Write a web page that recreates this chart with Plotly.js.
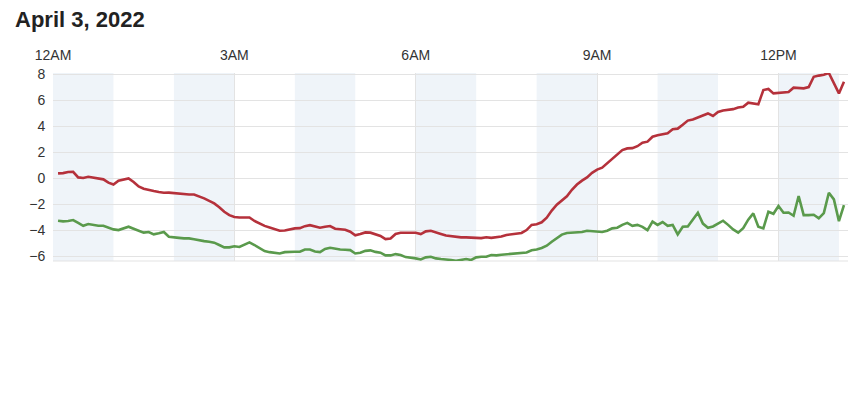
<!DOCTYPE html>
<html>
<head>
<meta charset="utf-8">
<script src="https://cdn.plot.ly/plotly-3.0.1.min.js"></script>
<style>html,body{margin:0;padding:0;background:#fff;}#chart{width:855px;height:410px;}</style>
</head>
<body>
<div id="chart"></div>
<script>
const chartTitle = 'April 3, 2022';
const day = '2022-04-03 ';
const times = [
'00:05','00:10','00:15','00:20','00:25','00:30','00:35','00:40','00:45','00:50','00:55','01:00',
'01:05','01:10','01:15','01:20','01:25','01:30','01:35','01:40','01:45','01:50','01:55','02:00',
'02:05','02:10','02:15','02:20','02:25','02:30','02:35','02:40','02:45','02:50','02:55','03:00',
'03:05','03:10','03:15','03:20','03:25','03:30','03:35','03:40','03:45','03:50','03:55','04:00',
'04:05','04:10','04:15','04:20','04:25','04:30','04:35','04:40','04:45','04:50','04:55','05:00',
'05:05','05:10','05:15','05:20','05:25','05:30','05:35','05:40','05:45','05:50','05:55','06:00',
'06:05','06:10','06:15','06:20','06:25','06:30','06:35','06:40','06:45','06:50','06:55','07:00',
'07:05','07:10','07:15','07:20','07:25','07:30','07:35','07:40','07:45','07:50','07:55','08:00',
'08:05','08:10','08:15','08:20','08:25','08:30','08:35','08:40','08:45','08:50','08:55','09:00',
'09:05','09:10','09:15','09:20','09:25','09:30','09:35','09:40','09:45','09:50','09:55','10:00',
'10:05','10:10','10:15','10:20','10:25','10:30','10:35','10:40','10:45','10:50','10:55','11:00',
'11:05','11:10','11:15','11:20','11:25','11:30','11:35','11:40','11:45','11:50','11:55','12:00',
'12:05','12:10','12:15','12:20','12:25','12:30','12:35','12:40','12:45','12:50','12:55','13:00',
'13:05'
];
const temperature = [
0.36, 0.38, 0.46, 0.48, 0.05, 0.0, 0.1, 0.02, -0.03, -0.1,
-0.35, -0.5, -0.2, -0.1, -0.03, -0.3, -0.65, -0.82, -0.93, -1.0,
-1.07, -1.13, -1.12, -1.15, -1.2, -1.26, -1.26, -1.26, -1.4, -1.56,
-1.75, -1.95, -2.25, -2.59, -2.85, -3.0, -3.03, -3.03, -3.03, -3.3,
-3.5, -3.68, -3.8, -3.92, -4.05, -4.03, -3.95, -3.87, -3.85, -3.7,
-3.62, -3.75, -3.82, -3.75, -3.69, -3.9, -3.95, -3.98, -4.13, -4.4,
-4.3, -4.18, -4.2, -4.3, -4.45, -4.7, -4.65, -4.3, -4.21, -4.21,
-4.21, -4.21, -4.31, -4.1, -4.05, -4.15, -4.3, -4.42, -4.48, -4.54,
-4.56, -4.56, -4.56, -4.6, -4.62, -4.55, -4.6, -4.54, -4.5,
-4.38, -4.31, -4.25, -4.22, -4.0, -3.6, -3.55, -3.4, -3.05, -2.5,
-2.05, -1.7, -1.4, -0.9, -0.5, -0.2, 0.05, 0.4, 0.65, 0.8,
1.15, 1.5, 1.8, 2.15, 2.28, 2.3, 2.45, 2.72, 2.8, 3.18,
3.3, 3.35, 3.45, 3.75, 3.8, 4.1, 4.42, 4.51, 4.65, 4.85,
4.97, 4.77, 5.08, 5.2, 5.23, 5.3, 5.42, 5.49, 5.8, 5.72,
5.67, 6.77, 6.85, 6.51, 6.55, 6.6, 6.62, 6.95, 6.95, 6.9,
7.0, 7.79, 7.88, 7.95, 8.08, 7.28, 6.51, 7.41
];
const dewPoint = [
-3.28, -3.33, -3.3, -3.23, -3.45, -3.67, -3.54, -3.62, -3.67, -3.67,
-3.8, -3.95, -4.0, -3.88, -3.74, -3.9, -4.05, -4.2, -4.15, -4.33,
-4.25, -4.15, -4.51, -4.53, -4.6, -4.64, -4.64, -4.7, -4.8, -4.85,
-4.9, -4.97, -5.15, -5.33, -5.33, -5.25, -5.3, -5.1, -4.95, -5.15,
-5.4, -5.62, -5.7, -5.74, -5.8, -5.7, -5.67, -5.67, -5.67, -5.5,
-5.5, -5.65, -5.7, -5.45, -5.36, -5.45, -5.5, -5.52, -5.54, -5.8,
-5.75, -5.6, -5.56, -5.68, -5.74, -5.95, -5.95, -5.85, -5.92, -6.08,
-6.12, -6.18, -6.26, -6.1, -6.05, -6.18, -6.23, -6.25, -6.3, -6.36,
-6.3, -6.23, -6.3, -6.1, -6.05, -6.05, -5.92, -5.95, -5.9,
-5.86, -5.82, -5.8, -5.78, -5.72, -5.55, -5.5, -5.38, -5.2, -4.9,
-4.6, -4.35, -4.22, -4.2, -4.2, -4.15, -4.05, -4.08, -4.15, -4.15,
-4.05, -3.87, -3.82, -3.6, -3.45, -3.67, -3.6, -3.75, -4.0, -3.35,
-3.6, -3.38, -3.67, -3.6, -4.33, -3.74, -3.72, -3.2, -2.67, -3.5,
-3.82, -3.72, -3.5, -3.28, -3.6, -3.95, -4.2, -3.85, -3.2, -2.72,
-3.74, -3.87, -2.59, -2.75, -2.15, -2.67, -2.65, -2.9, -1.38, -2.85,
-2.85, -2.82, -3.1, -2.7, -1.13, -1.64, -3.31, -2.08
];
const bandStarts = ['00:00','02:00','04:00','06:00','08:00','10:00','12:00'];
const bandEnds   = ['01:00','03:00','05:00','07:00','09:00','11:00','13:00'];
const tickTimes = ['00:00','03:00','06:00','09:00','12:00'];
const tickLabels = ['12AM','3AM','6AM','9AM','12PM'];
const yTicks = [-6, -4, -2, 0, 2, 4, 6, 8];

const xs = times.map(t => day + t);
const font = 'Liberation Sans, Arial, Helvetica, sans-serif';

const traces = [
  {x: xs, y: temperature, type: 'scatter', mode: 'lines', name: 'Temperature',
   line: {color: '#b5313b', width: 2.6}, hoverinfo: 'skip'},
  {x: xs, y: dewPoint, type: 'scatter', mode: 'lines', name: 'Dew point',
   line: {color: '#5a9a4c', width: 2.6}, hoverinfo: 'skip'}
];

const shapes = bandStarts.map((s, i) => ({
  type: 'rect', xref: 'x', yref: 'paper', x0: day + s, x1: day + bandEnds[i], y0: 0, y1: 1,
  fillcolor: '#eff4f9', line: {width: 0}, layer: 'below'
}));
shapes.push({type: 'line', xref: 'paper', yref: 'paper', x0: 0, x1: 1, y0: 0, y1: 0,
  line: {color: '#e3e3e3', width: 1}, layer: 'below'});

const layout = {
  width: 855, height: 410,
  paper_bgcolor: '#ffffff', plot_bgcolor: 'rgba(0,0,0,0)',
  margin: {l: 53, r: 7, t: 73, b: 149},
  showlegend: false,
  title: {text: '<b>' + chartTitle + '</b>', font: {family: font, size: 22, color: '#222222'},
    xref: 'container', yref: 'container', x: 15/855, xanchor: 'left', y: 1 - 12/410, yanchor: 'top'},
  xaxis: {
    type: 'date', side: 'top',
    range: [day + '00:00', day + '13:09'],
    tickvals: tickTimes.map(t => day + t), ticktext: tickLabels,
    showgrid: true, gridcolor: '#e3e3e3', gridwidth: 1,
    zeroline: false, showline: false,
    ticks: 'outside', ticklen: 6, tickcolor: 'rgba(0,0,0,0)',
    tickfont: {family: font, size: 14, color: '#333333'}
  },
  yaxis: {
    range: [-6.38, 8.08],
    tickvals: yTicks,
    showgrid: true, gridcolor: '#e3e3e3', gridwidth: 1,
    zeroline: false, showline: false,
    ticks: 'outside', ticklen: 4, tickcolor: 'rgba(0,0,0,0)',
    tickfont: {family: font, size: 14, color: '#333333'}
  },
  shapes: shapes
};

Plotly.newPlot('chart', traces, layout, {staticPlot: true, displayModeBar: false});
</script>
</body>
</html>
